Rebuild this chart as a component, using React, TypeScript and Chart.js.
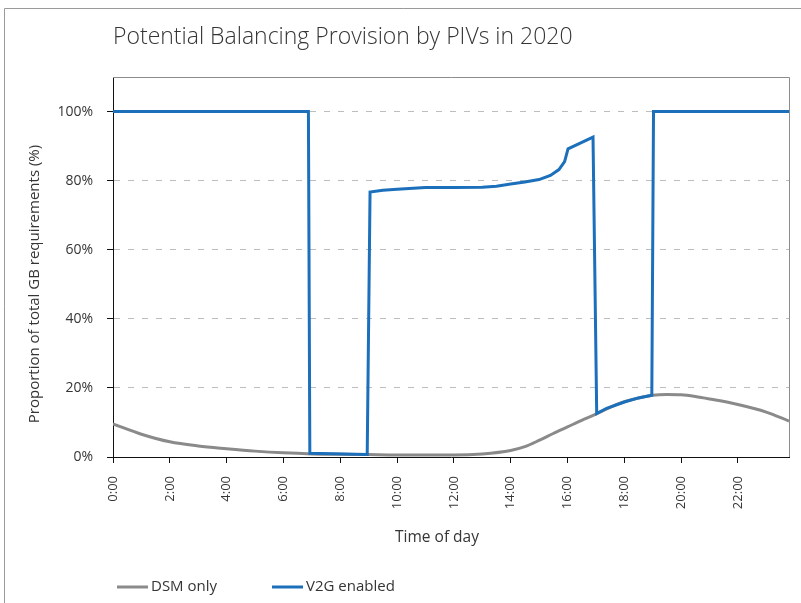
import React, { useEffect, useRef } from 'react';
import { Chart, registerables } from 'chart.js';

Chart.register(...registerables);

const TITLE = 'Potential Balancing Provision by PIVs in 2020';
const Y_TITLE = 'Proportion of total GB requirements (%)';
const X_TITLE = 'Time of day';
const SERIES_NAMES = ['DSM only', 'V2G enabled'];

const xTickHours = [0, 2, 4, 6, 8, 10, 12, 14, 16, 18, 20, 22];
const yTickValues = [0, 20, 40, 60, 80, 100];

const dsmHours = [0, 1, 2, 3, 4, 5, 6, 7, 8, 9, 10, 11, 12, 13, 14, 14.5, 15, 15.5, 16, 16.5, 17, 17.5, 18, 18.5, 19, 19.5, 20, 20.5, 21, 22, 23, 23.8];
const dsmValues = [9.6, 6.6, 4.4, 3.2, 2.4, 1.7, 1.2, 0.9, 0.8, 0.7, 0.6, 0.6, 0.6, 0.9, 1.9, 3.0, 4.8, 6.8, 8.7, 10.6, 12.4, 14.4, 16.0, 17.1, 17.9, 18.1, 18.0, 17.5, 16.8, 15.2, 13.0, 10.4];

const v2gHours = [0, 6.88, 6.93, 8.95, 9.05, 9.5, 10, 11, 12, 13, 13.5, 14, 14.5, 15, 15.4, 15.7, 15.9, 16.02, 16.9, 17.03, 17.38, 18.03, 18.5, 18.97, 19.03, 23.8];
const v2gValues = [100, 100, 1.1, 0.7, 76.7, 77.2, 77.5, 78, 78, 78.1, 78.4, 79, 79.6, 80.3, 81.5, 83.2, 85.5, 89.2, 92.6, 12.6, 14.1, 16.0, 17.1, 17.9, 100, 100];

const X_MIN = 0;
const X_MAX = 23.8;
const Y_MAX = 110;

const FONT = '"Open Sans", "Noto Sans", sans-serif';
const TEXT_COLOR = '#353535';
const DSM_COLOR = '#8a8a8a';
const V2G_COLOR = '#1b6fbb';

const decorPlugin = {
  id: 'decor',
  beforeDatasetsDraw(chart: any) {
    const { ctx, chartArea } = chart;
    ctx.save();
    ctx.strokeStyle = '#8c8c8c';
    ctx.lineWidth = 1;
    ctx.beginPath();
    ctx.moveTo(chartArea.left, chartArea.top + 0.5);
    ctx.lineTo(chartArea.right + 0.5, chartArea.top + 0.5);
    ctx.lineTo(chartArea.right + 0.5, chartArea.bottom);
    ctx.stroke();
    ctx.restore();
  },
  afterDraw(chart: any) {
    const { ctx, chartArea } = chart;
    ctx.save();
    // outer frame
    ctx.strokeStyle = '#9a9a9a';
    ctx.lineWidth = 1;
    ctx.beginPath();
    ctx.moveTo(4.5, 700);
    ctx.lineTo(4.5, 8.5);
    ctx.lineTo(900, 8.5);
    ctx.stroke();

    // title
    ctx.fillStyle = TEXT_COLOR;
    ctx.textBaseline = 'middle';
    ctx.textAlign = 'left';
    ctx.font = `300 23px ${FONT}`;
    ctx.fillText(TITLE, chartArea.left, 37);

    // x title
    ctx.textAlign = 'center';
    ctx.font = `15.5px ${FONT}`;
    ctx.fillText(X_TITLE, 437, 538);

    // y title
    ctx.save();
    ctx.translate(35, 284);
    ctx.rotate(-Math.PI / 2);
    ctx.font = `15px ${FONT}`;
    ctx.fillText(Y_TITLE, 0, 0);
    ctx.restore();

    // legend
    const items = [
      { name: SERIES_NAMES[0], color: DSM_COLOR, x: 117 },
      { name: SERIES_NAMES[1], color: V2G_COLOR, x: 272 },
    ];
    ctx.font = `15px ${FONT}`;
    ctx.textAlign = 'left';
    items.forEach((it) => {
      ctx.strokeStyle = it.color;
      ctx.lineWidth = 3;
      ctx.beginPath();
      ctx.moveTo(it.x, 587);
      ctx.lineTo(it.x + 31, 587);
      ctx.stroke();
      ctx.fillStyle = TEXT_COLOR;
      ctx.fillText(it.name, it.x + 34, 587);
    });
    ctx.restore();
  },
};

export default function App() {
  const ref = useRef<HTMLCanvasElement>(null);

  useEffect(() => {
    document.body.style.margin = '0';
    const canvas = ref.current;
    if (!canvas) return;
    const chart = new Chart(canvas, {
      type: 'line',
      data: {
        datasets: [
          {
            label: SERIES_NAMES[1],
            data: v2gHours.map((h, i) => ({ x: h, y: v2gValues[i] })),
            borderColor: V2G_COLOR,
            backgroundColor: V2G_COLOR,
            borderWidth: 3,
            pointRadius: 0,
            tension: 0,
            fill: false,
          },
          {
            label: SERIES_NAMES[0],
            data: dsmHours.map((h, i) => ({ x: h, y: dsmValues[i] })),
            borderColor: DSM_COLOR,
            backgroundColor: DSM_COLOR,
            borderWidth: 3,
            pointRadius: 0,
            cubicInterpolationMode: 'monotone',
            fill: false,
          },
        ],
      },
      options: {
        responsive: false,
        animation: false,
        layout: { padding: { left: 0, right: 12, top: 77, bottom: 0 } },
        plugins: {
          legend: { display: false },
          title: { display: false },
          tooltip: { enabled: false },
        },
        scales: {
          x: {
            type: 'linear',
            min: X_MIN,
            max: X_MAX,
            afterBuildTicks: (scale: any) => {
              scale.ticks = xTickHours.map((v) => ({ value: v }));
            },
            afterFit: (scale: any) => {
              scale.height = 146;
            },
            ticks: {
              autoSkip: false,
              maxRotation: 90,
              minRotation: 90,
              padding: 13,
              color: TEXT_COLOR,
              font: { family: FONT, size: 13 },
              callback: (v: any) => `${v}:00`,
            },
            grid: {
              drawOnChartArea: false,
              drawTicks: true,
              tickLength: 6,
              tickColor: '#111',
              tickWidth: 1,
            },
            border: { display: true, color: '#111', width: 1 },
          },
          y: {
            type: 'linear',
            min: 0,
            max: Y_MAX,
            afterBuildTicks: (scale: any) => {
              scale.ticks = yTickValues.map((v) => ({ value: v }));
            },
            afterFit: (scale: any) => {
              scale.width = 113;
            },
            ticks: {
              padding: 14,
              color: TEXT_COLOR,
              font: { family: FONT, size: 14 },
              callback: (v: any) => `${v}%`,
            },
            grid: {
              drawOnChartArea: true,
              drawTicks: true,
              tickLength: 6,
              tickColor: '#111',
              tickWidth: 1,
              color: (c: any) => (c.tick && c.tick.value === 0 ? 'rgba(0,0,0,0)' : '#bdbdbd'),
              lineWidth: 1,
            },
            border: { display: true, color: '#111', width: 1, dash: [6, 8] },
          },
        },
      },
      plugins: [decorPlugin],
    });
    return () => chart.destroy();
  }, []);

  return (
    <div style={{ width: 801, height: 603 }}>
      <canvas ref={ref} width={801} height={603} style={{ display: 'block' }} />
    </div>
  );
}
